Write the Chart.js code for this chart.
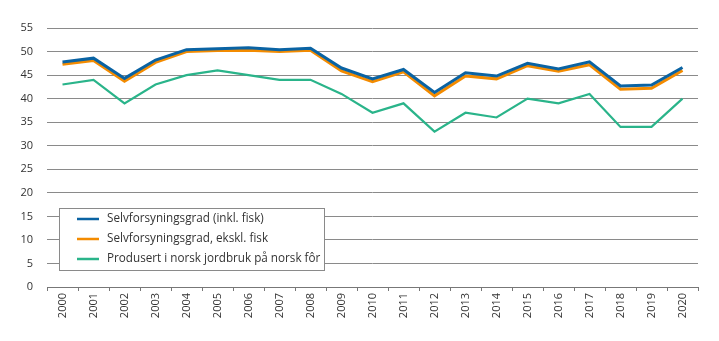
<!DOCTYPE html>
<html>
<head>
<meta charset="utf-8">
<script src="https://cdn.jsdelivr.net/npm/chart.js@4"></script>
<style>
  html, body { margin: 0; padding: 0; background: #fff; }
  #wrap { width: 719px; height: 341px; }
</style>
</head>
<body>
<div id="wrap"><canvas id="selvChart" width="719" height="341"></canvas></div>
<script>
const years = ['2000', '2001', '2002', '2003', '2004', '2005', '2006', '2007', '2008', '2009', '2010',
  '2011', '2012', '2013', '2014', '2015', '2016', '2017', '2018', '2019', '2020'];

const inklFisk = [47.8, 48.6, 44.3, 48.2, 50.4, 50.6, 50.8, 50.4, 50.7, 46.5, 44.2,
  46.2, 41.3, 45.5, 44.8, 47.5, 46.3, 47.8, 42.7, 42.9, 46.6];
const eksklFisk = [47.3, 48.1, 43.7, 47.7, 50.0, 50.2, 50.3, 50.0, 50.3, 45.9, 43.6,
  45.7, 40.6, 44.8, 44.2, 47.0, 45.8, 47.2, 42.0, 42.2, 46.0];
const norskFor = [43, 44, 39, 43, 45, 46, 45, 44, 44, 41, 37,
  39, 33, 37, 36, 40, 39, 41, 34, 34, 40];

const seriesLabels = [
  'Selvforsyningsgrad (inkl. fisk)',
  'Selvforsyningsgrad, ekskl. fisk',
  'Produsert i norsk jordbruk på norsk fôr',
];

const FONT = '"Open Sans", "Noto Sans", sans-serif';

// legend drawn inside the plot area, like the original
const boxLegend = {
  id: 'boxLegend',
  afterDraw(chart) {
    const ctx = chart.ctx;
    const area = chart.chartArea;
    const x = area.left + 12;
    const y = area.top + 180;
    const w = 265;
    const h = 62;
    ctx.save();
    ctx.fillStyle = '#fff';
    ctx.fillRect(x, y, w, h);
    ctx.strokeStyle = '#8a8a8a';
    ctx.lineWidth = 1;
    ctx.strokeRect(x + 0.5, y + 0.5, w, h);
    ctx.font = '11.7px ' + FONT;
    ctx.textBaseline = 'middle';
    chart.data.datasets.forEach((ds, i) => {
      const cy = y + 11 + i * 20;
      ctx.strokeStyle = ds.borderColor;
      ctx.lineWidth = 2.5;
      ctx.beginPath();
      ctx.moveTo(x + 18, cy);
      ctx.lineTo(x + 40, cy);
      ctx.stroke();
      ctx.fillStyle = '#333';
      ctx.fillText(ds.label, x + 48, cy);
    });
    ctx.restore();
  },
};

const ctx = document.getElementById('selvChart');

const chart = new Chart(ctx, {
  type: 'line',
  data: {
    labels: years,
    datasets: [
      {
        label: seriesLabels[0],
        data: inklFisk,
        borderColor: '#0a63a3',
        borderWidth: 3,
        pointRadius: 0,
        tension: 0,
      },
      {
        label: seriesLabels[1],
        data: eksklFisk,
        borderColor: '#f38b00',
        borderWidth: 3,
        pointRadius: 0,
        tension: 0,
      },
      {
        label: seriesLabels[2],
        data: norskFor,
        borderColor: '#2ab48a',
        borderWidth: 2.2,
        pointRadius: 0,
        tension: 0,
      },
    ],
  },
  options: {
    responsive: false,
    animation: false,
    layout: { padding: { top: 28, right: 21, bottom: 0, left: 0 } },
    plugins: {
      legend: { display: false },
      tooltip: { enabled: false },
    },
    scales: {
      x: {
        offset: true,
        grid: {
          offset: true,
          drawOnChartArea: false,
          drawTicks: true,
          tickLength: 4,
          color: '#777',
        },
        border: { color: '#777', width: 1 },
        ticks: {
          color: '#333',
          font: { family: FONT, size: 11 },
          minRotation: 90,
          maxRotation: 90,
          padding: 2,
          autoSkip: false,
        },
        afterFit(scale) { scale.height = 54; },
      },
      y: {
        min: 0,
        max: 55,
        ticks: {
          stepSize: 5,
          color: '#333',
          font: { family: FONT, size: 11 },
          padding: 14,
        },
        grid: { color: '#8a8a8a', drawTicks: false },
        border: { display: false },
        afterFit(scale) { scale.width = 47; },
      },
    },
  },
  plugins: [boxLegend],
});
</script>
</body>
</html>
